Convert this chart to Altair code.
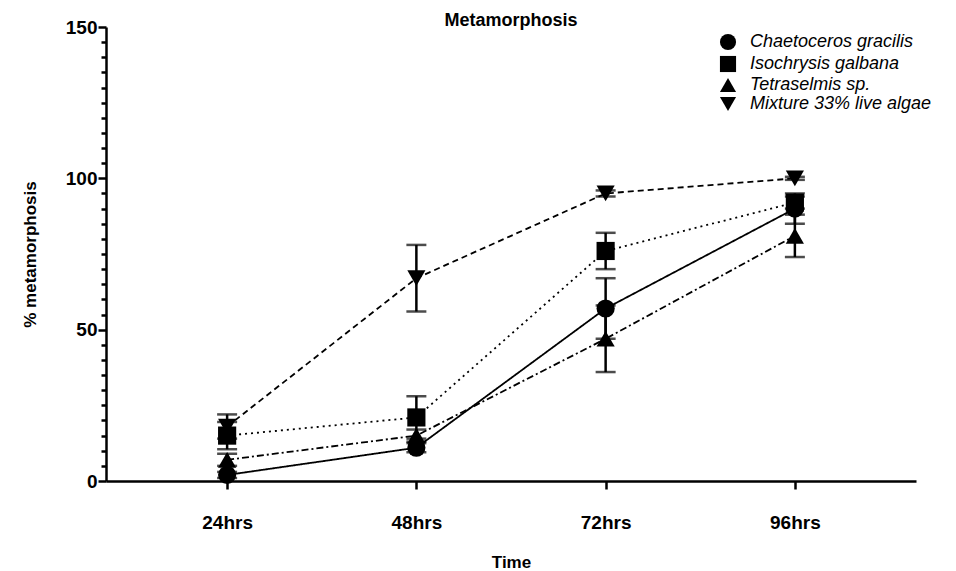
import altair as alt
import pandas as pd

times = ["24hrs", "48hrs", "72hrs", "96hrs"]
species = ["Chaetoceros gracilis", "Isochrysis galbana", "Tetraselmis sp.", "Mixture 33% live algae"]
chaetoceros = [2, 11, 57, 90]
chaetoceros_err = [1, 1.5, 10, 5]
isochrysis = [15, 21, 76, 92]
isochrysis_err = [4.5, 7, 6, 2]
tetraselmis = [7, 15, 47, 81]
tetraselmis_err = [2, 2, 11, 7]
mixture = [18, 67, 95, 100]
mixture_err = [4, 11, 1, 0.5]

rows = []
for sp, vals, errs in [
    (species[0], chaetoceros, chaetoceros_err),
    (species[1], isochrysis, isochrysis_err),
    (species[2], tetraselmis, tetraselmis_err),
    (species[3], mixture, mixture_err),
]:
    for t, v, e in zip(times, vals, errs):
        rows.append({"time": t, "species": sp, "series": sp, "value": v, "lo": v - e, "hi": v + e})
df = pd.DataFrame(rows)

FONT = "Liberation Sans"

xaxis = alt.Axis(title="Time", labelAngle=0, labelFontSize=19, labelFontWeight="bold",
                 labelFont=FONT, labelPadding=24, tickSize=8, tickWidth=2.5,
                 domainWidth=2.5, domainColor="black", tickColor="black",
                 titleFontSize=17, titleFontWeight="bold", titleFont=FONT,
                 titlePadding=22, labelColor="black", titleColor="black")
xscale = alt.Scale(type="point", padding=0.64)
x = alt.X("time:N", sort=times, scale=xscale, axis=xaxis)

yscale = alt.Scale(domain=[0, 150], nice=False)
yaxis = alt.Axis(title="% metamorphosis", values=list(range(0, 151, 5)),
                 labelExpr="datum.value % 50 === 0 ? datum.label : ''",
                 labelOverlap=False,
                 tickSize={"condition": {"test": "datum.value % 50 === 0", "value": 8}, "value": 5},
                 tickWidth=2.5, domainWidth=2.5, domainColor="black", tickColor="black",
                 labelFontSize=19, labelFontWeight="bold", labelFont=FONT, labelPadding=1,
                 labelColor="black", titleColor="black",
                 titleFontSize=17, titleFontWeight="bold", titleFont=FONT, titlePadding=26,
                 grid=False)


def yenc(field):
    return alt.Y(f"{field}:Q", scale=yscale, axis=yaxis, title="% metamorphosis")


dash_range = [[1, 0], [2, 4], [7, 3, 2, 3], [6, 4]]
shape_range = ["circle", "square", "triangle-up", "triangle-down"]

base = alt.Chart(df)

lines = base.mark_line(color="black", strokeWidth=1.8).encode(
    x=x, y=yenc("value"),
    strokeDash=alt.StrokeDash("series:N", sort=species,
                              scale=alt.Scale(domain=species, range=dash_range), legend=None),
    detail="series:N",
)

rules = base.mark_rule(color="black", strokeWidth=2.5).encode(
    x=x, y=yenc("lo"), y2="hi:Q")
caps_hi = base.mark_tick(color="black", size=20, thickness=2.5).encode(
    x=x, y=yenc("hi"))
caps_lo = base.mark_tick(color="black", size=20, thickness=2.5).encode(
    x=x, y=yenc("lo"))

points = base.mark_point(filled=True, color="black", opacity=1, size=330).encode(
    x=x, y=yenc("value"),
    shape=alt.Shape("species:N", sort=species,
                    scale=alt.Scale(domain=species, range=shape_range),
                    legend=alt.Legend(title=None, orient="none", legendX=613, legendY=6,
                                      labelFontSize=18, labelFontStyle="italic", labelFont=FONT,
                                      labelColor="black", symbolSize=260, symbolFillColor="black",
                                      symbolStrokeColor="black", symbolOpacity=1,
                                      rowPadding=-2, labelLimit=400, labelOffset=13)),
)

chart = alt.layer(lines, rules, caps_hi, caps_lo, points).resolve_scale(
    shape="independent", strokeDash="independent"
).properties(
    width=810, height=454,
    title=alt.TitleParams("Metamorphosis", fontSize=18, fontWeight="bold", font=FONT,
                          color="black", offset=-12, anchor="middle"),
    autosize=alt.AutoSizeParams(type="none"),
    padding={"left": 106, "top": 27, "right": 40, "bottom": 90},
).configure(font=FONT).configure_view(stroke=None)

chart.save("out.html", embed_options={"renderer": "svg", "actions": False})
